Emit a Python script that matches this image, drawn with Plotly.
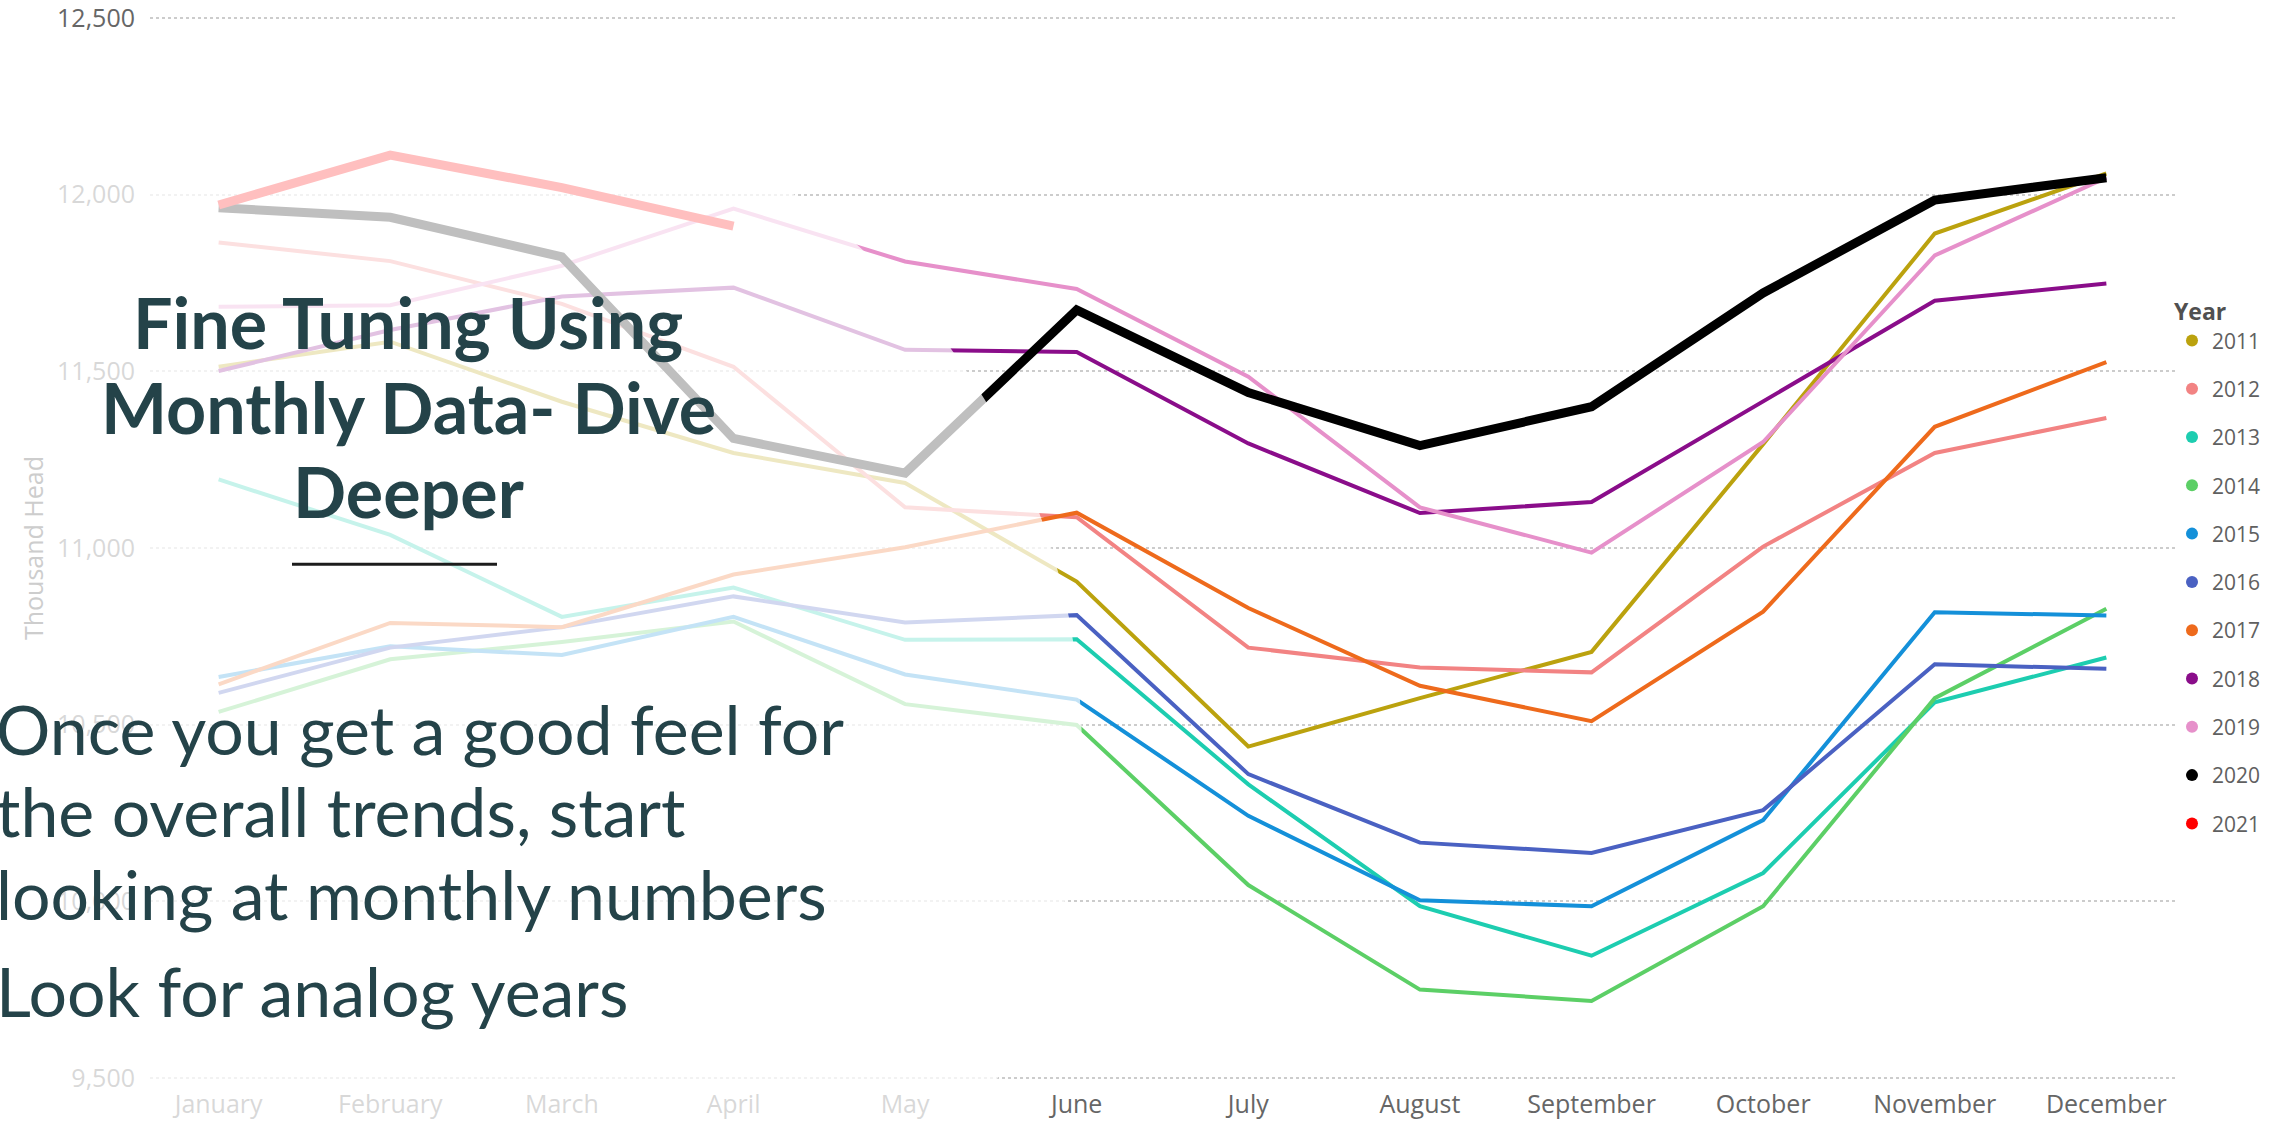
import plotly.graph_objects as go

# ---------------- data ----------------
months = ["January", "February", "March", "April", "May", "June",
          "July", "August", "September", "October", "November", "December"]
years = ["2011", "2012", "2013", "2014", "2015", "2016",
         "2017", "2018", "2019", "2020", "2021"]
y_ticks = [9500, 10000, 10500, 11000, 11500, 12000, 12500]

v2011 = [11513, 11584, 11414, 11269, 11184, 10905, 10438, 10575, 10706, 11294, 11890, 12060]
v2012 = [11865, 11812, 11691, 11513, 11115, 11087, 10718, 10662, 10648, 11004, 11269, 11368]
v2013 = [11194, 11037, 10805, 10888, 10740, 10742, 10331, 9986, 9846, 10080, 10563, 10690]
v2014 = [10536, 10685, 10734, 10792, 10558, 10499, 10046, 9750, 9718, 9986, 10575, 10828]
v2015 = [10635, 10722, 10697, 10805, 10642, 10571, 10242, 10003, 9986, 10230, 10818, 10809]
v2016 = [10590, 10718, 10776, 10863, 10789, 10810, 10360, 10166, 10137, 10258, 10671, 10658]
v2017 = [10614, 10788, 10776, 10925, 11002, 11100, 10830, 10610, 10510, 10820, 11343, 11526]
v2018 = [11501, 11617, 11712, 11737, 11561, 11555, 11296, 11099, 11130, 11414, 11700, 11749]
v2019 = [11683, 11687, 11799, 11961, 11811, 11733, 11485, 11115, 10987, 11300, 11828, 12048]
v2020 = [11963, 11936, 11824, 11310, 11212, 11674, 11440, 11290, 11400, 11722, 11985, 12048]
v2021 = [11971, 12112, 12020, 11911]

series = {"2011": v2011, "2012": v2012, "2013": v2013, "2014": v2014,
          "2015": v2015, "2016": v2016, "2017": v2017, "2018": v2018,
          "2019": v2019, "2020": v2020, "2021": v2021}

title_lines = ["Fine Tuning Using", "Monthly Data- Dive", "Deeper"]
body_lines = ["Once you get a good feel for", "the overall trends, start",
              "looking at monthly numbers", "Look for analog years"]

# ---------------- style ----------------
colors = {"2011": "#BBA20E", "2012": "#F28383", "2013": "#1DCDB0", "2014": "#5CCF66",
          "2015": "#1490D9", "2016": "#4A61C2", "2017": "#EE6A1C", "2018": "#8A0D8A",
          "2019": "#E690CA", "2020": "#000000", "2021": "#FF0000"}
widths = {"2020": 9, "2021": 9}

W, H = 2292, 1125
Y_LO, Y_HI = 9480, 12520
L, R, T, B = 150, 2175, 10.5, 1085   # plot area in pixels


def px_x(p):
    return (p - L) / (R - L)


def px_y(p):
    return (B - p) / (B - T)


fig = go.Figure()

for yr in years:
    vals = series[yr]
    fig.add_trace(go.Scatter(
        x=months[:len(vals)], y=vals, mode="lines", name=yr,
        line=dict(color=colors[yr], width=widths.get(yr, 4)),
        showlegend=False, hoverinfo="skip"))

# legend entries (dots)
for yr in years:
    fig.add_trace(go.Scatter(
        x=[None], y=[None], mode="markers", name=yr, legendgroup=yr,
        marker=dict(color=colors[yr], size=14, symbol="circle"),
        showlegend=True))

# fading white circle overlay (slide shape)
cx, cy, rad = 401, 750, 681
shapes = [
    dict(type="circle", xref="paper", yref="paper",
         x0=px_x(cx - rad), x1=px_x(cx + rad),
         y0=px_y(cy + rad), y1=px_y(cy - rad),
         fillcolor="rgba(255,255,255,0.75)", line=dict(width=0), layer="above"),
    dict(type="line", xref="paper", yref="paper",
         x0=px_x(292), x1=px_x(497), y0=px_y(564), y1=px_y(564),
         line=dict(color="#1c1c1c", width=3), layer="above"),
]

annotations = []
title_y = [322, 407, 491]
for txt, yy in zip(title_lines, title_y):
    annotations.append(dict(
        text="<b>" + txt + "</b>", x=px_x(408), y=px_y(yy), xref="paper", yref="paper",
        xanchor="center", yanchor="middle", showarrow=False,
        font=dict(family="Lato", size=70, color="#244349")))
body_y = [728, 810, 893, 990]
for txt, yy in zip(body_lines, body_y):
    annotations.append(dict(
        text=txt, x=px_x(-6), y=px_y(yy), xref="paper", yref="paper",
        xanchor="left", yanchor="middle", showarrow=False,
        font=dict(family="Lato", size=68, color="#244349")))

fig.update_layout(
    width=W, height=H,
    margin=dict(l=L, r=W - R, t=T, b=H - B, pad=0, autoexpand=False),
    paper_bgcolor="white", plot_bgcolor="white",
    font=dict(family="Open Sans", color="#666666"),
    xaxis=dict(type="category", categoryorder="array", categoryarray=months,
               range=[-0.4, 11.4], showgrid=False, zeroline=False, showline=False,
               ticks="", tickfont=dict(size=25, color="#666666"),
               ticklabelstandoff=2, automargin=False, ticklabeloverflow="allow"),
    yaxis=dict(range=[Y_LO, Y_HI], tickvals=y_ticks, tickformat=",d",
               showgrid=True, gridcolor="#cccccc", gridwidth=1.5, griddash="dot",
               zeroline=False, showline=False, ticks="", automargin=False,
               ticklabeloverflow="allow",
               tickfont=dict(size=25, color="#666666"), ticklabelstandoff=14,
               title=dict(text="Thousand Head", standoff=6,
                          font=dict(size=25, color="#cdcdcd"))),
    legend=dict(xref="paper", yref="paper",
                x=px_x(2172), y=px_y(290), xanchor="left", yanchor="top",
                title=dict(text="<b>Year</b>", font=dict(size=23, color="#505050")),
                font=dict(size=21, color="#606060"),
                tracegroupgap=18, itemsizing="constant", bgcolor="rgba(0,0,0,0)"),
    shapes=shapes, annotations=annotations,
    showlegend=True,
)

fig.write_html("out.html", config={"displayModeBar": False},
               post_script="document.body.style.margin='0';document.body.style.overflow='hidden';")
